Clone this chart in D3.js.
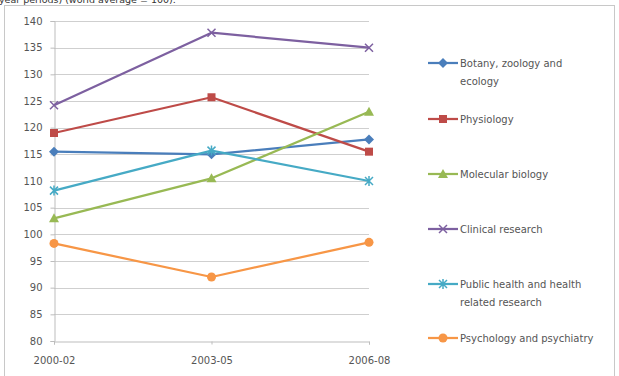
<!DOCTYPE html>
<html>
<head>
<meta charset="utf-8">
<script src="https://cdn.jsdelivr.net/npm/d3@7/dist/d3.min.js"></script>
<style>
  html, body { margin: 0; padding: 0; background: #fff; }
  svg { display: block; font-family: "DejaVu Sans", "Liberation Sans", sans-serif; }
</style>
</head>
<body>
<svg id="chart" width="619" height="376"></svg>
<script>
// Periods on the x axis
const periods = ["2000-02", "2003-05", "2006-08"];

// Relative citation impact per field (world average = 100)
const botany = [115.5, 115.0, 117.8];
const physiology = [119.0, 125.7, 115.5];
const molecular = [103.0, 110.5, 123.0];
const clinical = [124.2, 137.8, 135.0];
const publicHealth = [108.2, 115.7, 110.0];
const psychology = [98.3, 92.0, 98.5];

const yTicks = [80, 85, 90, 95, 100, 105, 110, 115, 120, 125, 130, 135, 140];

const seriesNames = [
  ["Botany, zoology and", "ecology"],
  ["Physiology"],
  ["Molecular biology"],
  ["Clinical research"],
  ["Public health and health", "related research"],
  ["Psychology and psychiatry"]
];

const series = [
  { name: seriesNames[0], values: botany, color: "#4A7EBB", marker: "diamond" },
  { name: seriesNames[1], values: physiology, color: "#BE4B48", marker: "square" },
  { name: seriesNames[2], values: molecular, color: "#98B954", marker: "triangle" },
  { name: seriesNames[3], values: clinical, color: "#7D60A0", marker: "x" },
  { name: seriesNames[4], values: publicHealth, color: "#46AAC5", marker: "star" },
  { name: seriesNames[5], values: psychology, color: "#F79646", marker: "circle" }
];

const FONT = "'DejaVu Sans', 'Liberation Sans', sans-serif";
const svg = d3.select("#chart");

// Chart area frame
svg.append("rect")
  .attr("x", 4.5).attr("y", 5.5)
  .attr("width", 610).attr("height", 380)
  .attr("fill", "none").attr("stroke", "#C8C8C8").attr("stroke-width", 1);

// Title fragment at the top edge
svg.append("text")
  .attr("x", -1).attr("y", 3)
  .attr("font-size", 9.5)
  .attr("fill", "#333")
  .text("year periods) (world average = 100).");

const x = d3.scalePoint().domain(periods).range([54, 369]);
const y = d3.scaleLinear().domain([80, 140]).range([341, 21]);

// Horizontal gridlines
svg.append("g")
  .selectAll("line")
  .data(yTicks.filter(t => t !== 80))
  .join("line")
  .attr("x1", x(periods[0])).attr("x2", x(periods[periods.length - 1]))
  .attr("y1", d => Math.round(y(d)) + 0.5).attr("y2", d => Math.round(y(d)) + 0.5)
  .attr("stroke", "#CFCFCF").attr("stroke-width", 1);

// Y axis
const yAxis = svg.append("g")
  .attr("transform", `translate(${x(periods[0]) + 0.5},0)`)
  .call(d3.axisLeft(y).tickValues(yTicks).tickSize(4).tickPadding(8));
yAxis.select(".domain").attr("stroke", "#BDBDBD");
yAxis.selectAll(".tick line").attr("stroke", "#BDBDBD");
yAxis.selectAll(".tick text")
  .attr("fill", "#555").attr("font-size", 10)
  .attr("font-family", FONT);

// X axis
const xAxis = svg.append("g")
  .attr("transform", `translate(0,${Math.round(y(80)) + 0.5})`)
  .call(d3.axisBottom(x).tickSize(3).tickPadding(12));
xAxis.select(".domain").attr("stroke", "#BDBDBD");
xAxis.selectAll(".tick line").attr("stroke", "#BDBDBD");
xAxis.selectAll(".tick text")
  .attr("fill", "#555").attr("font-size", 10)
  .attr("font-family", FONT);

// Marker drawing helper
function drawMarker(g, type, cx, cy, color) {
  const s = 4;
  if (type === "diamond") {
    g.append("path").attr("d", `M${cx},${cy - s - 1}L${cx + s + 1},${cy}L${cx},${cy + s + 1}L${cx - s - 1},${cy}Z`)
      .attr("fill", color);
  } else if (type === "square") {
    g.append("rect").attr("x", cx - s).attr("y", cy - s).attr("width", 2 * s).attr("height", 2 * s)
      .attr("fill", color);
  } else if (type === "triangle") {
    g.append("path").attr("d", `M${cx},${cy - s - 1}L${cx + s + 1},${cy + s}L${cx - s - 1},${cy + s}Z`)
      .attr("fill", color);
  } else if (type === "x") {
    g.append("path").attr("d", `M${cx - s},${cy - s}L${cx + s},${cy + s}M${cx - s},${cy + s}L${cx + s},${cy - s}`)
      .attr("stroke", color).attr("stroke-width", 1.5).attr("fill", "none");
  } else if (type === "star") {
    g.append("path").attr("d", `M${cx - s},${cy - s}L${cx + s},${cy + s}M${cx - s},${cy + s}L${cx + s},${cy - s}M${cx},${cy - s - 1}L${cx},${cy + s + 1}`)
      .attr("stroke", color).attr("stroke-width", 1.5).attr("fill", "none");
  } else if (type === "circle") {
    g.append("circle").attr("cx", cx).attr("cy", cy).attr("r", s + 0.5).attr("fill", color);
  }
}

const line = d3.line().x((d, i) => x(periods[i])).y(d => y(d));

const plot = svg.append("g");
series.forEach(s => {
  const g = plot.append("g");
  g.append("path")
    .attr("d", line(s.values))
    .attr("fill", "none").attr("stroke", s.color)
    .attr("stroke-width", 2.25).attr("stroke-linejoin", "round");
  s.values.forEach((v, i) => drawMarker(g, s.marker, x(periods[i]), y(v), s.color));
});

// Legend
const legendY = [63, 119, 174, 229, 284, 338];
const legend = svg.append("g");
series.forEach((s, i) => {
  const g = legend.append("g").attr("transform", `translate(0,${legendY[i]})`);
  g.append("line").attr("x1", 428).attr("x2", 458).attr("y1", 0).attr("y2", 0)
    .attr("stroke", s.color).attr("stroke-width", 2.25);
  drawMarker(g, s.marker, 443, 0, s.color);
  s.name.forEach((t, j) => {
    g.append("text")
      .attr("x", 460).attr("y", j * 18).attr("dy", "0.35em")
      .attr("font-size", 10).attr("fill", "#555")
      .text(t);
  });
});
</script>
</body>
</html>
